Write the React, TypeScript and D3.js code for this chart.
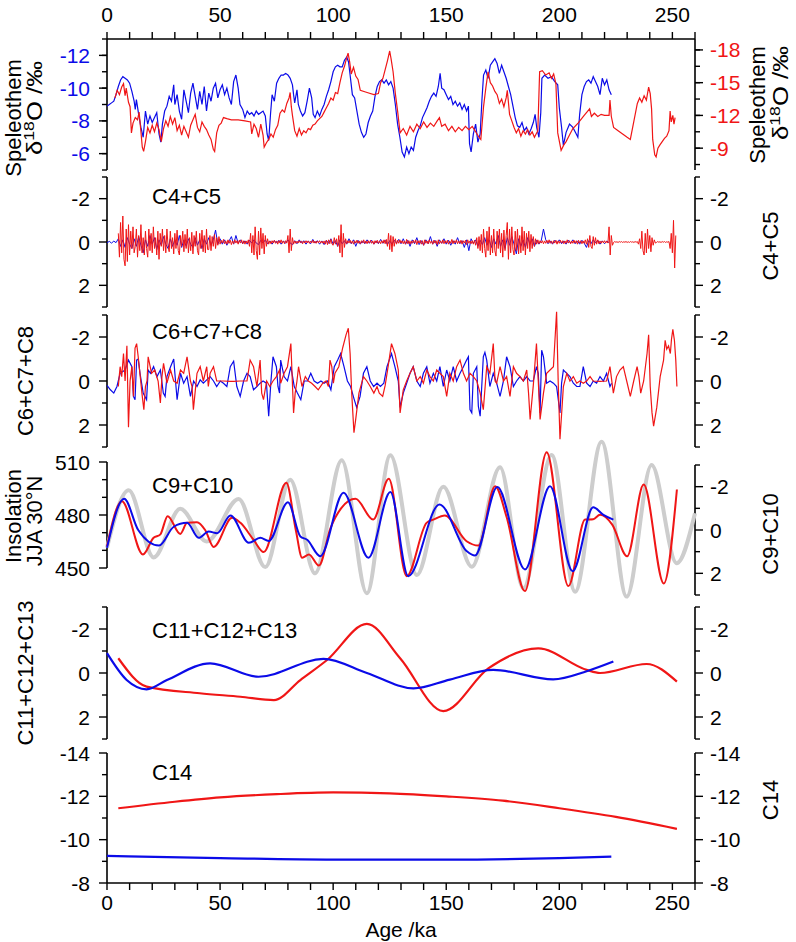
import React from "react";
import * as d3 from "d3";

// ---------- data (age in ka, value) ----------
const ageTicks = d3.range(0, 261, 10);
const ageLabels = [0, 50, 100, 150, 200, 250];

// speleothem d18O, blue record (left axis) and red record (right axis)
const speleoBlue: [number, number][] = [
  [0,-8.9],[1,-9.0],[2,-9.1],[3,-9.2],[4,-9.6],[5,-10.1],[6,-10.5],[7,-10.7],[8,-10.6],[9,-10.5],[10,-10.3],[11,-9.8],[12,-9.2],[12.5,-8.7],[13,-9.3],[14,-8.4],[15,-7.6],[16,-7.0],[17,-8.6],[18,-7.8],[19,-8.3],[20,-7.9],[21,-8.2],[22,-8.5],[23,-7.2],[23.8,-6.7],[24.5,-7.8],[25.5,-8.6],[26.5,-8.9],[27.5,-9.5],[28.5,-9.2],[29.5,-10.2],[30,-9.0],[31,-9.6],[32,-8.6],[33,-8.1],[34,-9.9],[35,-9.2],[36,-8.5],[37,-9.7],[38,-10.3],[39,-9.5],[40,-8.7],[41,-9.8],[42,-9.0],[43,-10.1],[44,-8.6],[45,-9.7],[46,-9.2],[47,-10.0],[48,-10.3],[49,-9.4],[50,-9.9],[51,-10.2],[52,-9.6],[53,-10.0],[54,-9.4],[55,-9.0],[56,-10.4],[57,-10.8],[58,-10.0],[58.8,-9.0],[60,-8.7],[61,-8.2],[62,-8.6],[63,-8.4],[64,-8.5],[65,-8.3],[66,-8.6],[67,-8.4],[68,-8.5],[69,-8.6],[70,-8.3],[70.8,-7.2],[71.5,-6.8],[72.3,-8.4],[73,-9.6],[74,-9.2],[75,-10.3],[76,-10.6],[77,-10.8],[78,-10.8],[79,-10.9],[80,-10.8],[81,-10.6],[82,-10.2],[82.5,-9.6],[83,-9.1],[84,-9.9],[84.6,-9.0],[85.5,-8.6],[86.5,-8.3],[87.5,-8.5],[88.5,-9.2],[89.5,-10.0],[90.5,-9.4],[91.2,-8.4],[92,-8.2],[93,-8.6],[94,-8.3],[95,-8.7],[96,-9.0],[97,-9.5],[98,-9.9],[99,-10.4],[100,-11.0],[101,-11.3],[102,-11.4],[103,-11.3],[104,-11.3],[105,-11.7],[106,-11.9],[106.8,-11.6],[107.5,-10.8],[108.5,-9.6],[109.5,-9.4],[110.5,-8.6],[111.5,-7.8],[112.5,-7.3],[113.5,-7.0],[114.5,-7.2],[115.5,-7.9],[116.5,-8.3],[117.5,-8.6],[118.5,-9.5],[119.5,-10.1],[120.5,-10.4],[121.5,-10.5],[122.5,-10.3],[123.5,-10.5],[124.5,-10.2],[125.5,-10.4],[126.5,-10.0],[127.5,-9.0],[128.5,-7.8],[129.5,-7.0],[130.5,-6.1],[131.5,-5.8],[132.5,-6.4],[133.5,-6.0],[134.5,-6.4],[135.5,-6.2],[136.5,-7.0],[137.5,-7.4],[138.5,-7.7],[139.5,-8.2],[140.5,-8.5],[141.5,-8.8],[142.5,-9.2],[143.5,-9.5],[144.5,-9.7],[145.5,-9.5],[146.5,-10.1],[147.3,-10.9],[148,-10.0],[149,-9.9],[150,-9.6],[151,-9.3],[152,-9.5],[153,-9.0],[154,-9.2],[155,-8.9],[156,-9.1],[157,-8.7],[158,-9.0],[159,-8.6],[159.8,-8.9],[160.3,-6.6],[161,-6.1],[162,-7.2],[163,-7.8],[164,-6.7],[165,-7.2],[165.8,-9.3],[166.5,-10.8],[167.5,-11.1],[168.5,-10.6],[169.5,-11.4],[170.5,-11.6],[171.5,-11.8],[172.5,-11.5],[173.5,-10.9],[174.5,-11.4],[175.5,-11.0],[176.5,-10.6],[177.5,-10.1],[178.5,-9.6],[179.5,-8.9],[180.5,-8.2],[181.5,-7.7],[182.5,-7.6],[183.5,-7.9],[184.5,-7.4],[185.5,-7.6],[186.5,-7.2],[187.5,-7.5],[188.5,-7.9],[189.3,-8.4],[190,-7.6],[191,-7.0],[191.8,-8.5],[192.3,-10.6],[193.5,-10.8],[195,-10.6],[196.5,-10.7],[198,-10.4],[199.3,-10.2],[200,-8.8],[201,-7.6],[201.8,-6.5],[203,-7.3],[204.5,-7.8],[206,-7.6],[207.5,-7.2],[208.2,-7.0],[209,-8.4],[210,-9.6],[211,-10.1],[212,-10.4],[213,-10.5],[214,-10.3],[215,-10.7],[216,-10.4],[217,-10.1],[218,-9.6],[219,-10.6],[220,-10.2],[221,-10.5],[222,-9.9],[223,-9.6]
];
const speleoRed: [number, number][] = [
  [3.5,-13.6],[4.5,-14.3],[5.5,-13.9],[6.5,-14.6],[7.3,-14.9],[8,-13.8],[8.5,-14.5],[9.5,-13.2],[10.2,-12.8],[10.8,-10.4],[11.5,-11.3],[12.5,-11.8],[13.5,-11.6],[14.2,-12.3],[15,-10.5],[15.6,-9.1],[16.2,-8.7],[17,-9.6],[18,-10.9],[19,-10.4],[20,-11.1],[21,-10.5],[22,-11.3],[23,-10.7],[24,-9.6],[25,-10.8],[26,-11.5],[27,-11.0],[28,-11.9],[29,-11.2],[30,-11.8],[31,-10.6],[32,-11.1],[33,-10.2],[34,-11.0],[35,-10.5],[36,-10.0],[37,-11.1],[38,-11.6],[39,-12.1],[40,-10.9],[41,-10.5],[42,-11.4],[43,-11.0],[44,-10.7],[45,-10.2],[46,-9.8],[47,-8.9],[47.6,-8.7],[48.5,-10.4],[49.5,-11.1],[50.5,-11.3],[51.5,-11.8],[53,-11.7],[55,-11.6],[58,-11.6],[61,-11.5],[63.5,-11.4],[64,-10.3],[65,-11.2],[66,-10.8],[67,-10.0],[68,-11.2],[69,-10.2],[69.5,-9.1],[70.5,-9.5],[71.5,-9.8],[72.5,-10.3],[73.5,-10.0],[74.5,-10.7],[75.5,-11.1],[76.5,-12.2],[77.5,-12.5],[78.5,-12.3],[79.5,-13.1],[80.5,-13.6],[81,-14.1],[81.5,-12.8],[82,-12.0],[83,-10.6],[84,-10.1],[85,-10.8],[86,-10.2],[87,-10.6],[88,-10.4],[89,-10.8],[90,-10.7],[91,-11.1],[92,-11.2],[93,-11.5],[94,-11.7],[95,-11.9],[96,-12.3],[97,-12.7],[98,-13.1],[99,-13.6],[100,-13.4],[101,-14.1],[102,-14.0],[103,-15.0],[104,-15.9],[105,-16.5],[106,-17.3],[106.6,-17.7],[107.3,-16.9],[108,-15.8],[109,-16.4],[110,-15.6],[111,-15.3],[112,-14.3],[115,-14.1],[118,-13.9],[120,-14.0],[121,-15.0],[122,-15.4],[123,-16.2],[124,-17.0],[125,-17.9],[125.6,-17.2],[126.5,-16.0],[127.5,-14.0],[128.5,-12.4],[129.6,-10.4],[131,-10.8],[132.5,-10.2],[134,-11.0],[135.5,-10.5],[137,-11.2],[138.5,-10.8],[140,-11.4],[141.5,-10.9],[143,-11.3],[144.5,-11.0],[146,-11.5],[147,-11.8],[148,-11.0],[149.5,-11.2],[151,-10.6],[152.5,-11.0],[154,-10.5],[155.5,-10.9],[157,-10.6],[158.5,-11.0],[160,-10.7],[161.5,-11.0],[163,-10.5],[164.5,-10.0],[165.3,-9.8],[166.5,-12.8],[167.5,-14.5],[168.5,-16.0],[169.5,-15.0],[170.5,-14.7],[171.5,-14.2],[172.5,-13.9],[173.5,-13.1],[174.5,-13.5],[175.5,-12.8],[176.5,-13.6],[177,-14.3],[178,-12.1],[179,-11.5],[180,-10.9],[181,-10.4],[182,-10.8],[183,-10.1],[184,-10.6],[185,-10.3],[186,-10.7],[187,-10.2],[188,-10.5],[189,-10.0],[190.5,-10.6],[191.3,-16.0],[192.5,-16.1],[194,-15.7],[195.5,-15.9],[196.5,-15.4],[197.5,-15.8],[198.5,-14.9],[199.3,-10.4],[200.8,-8.8],[202,-9.3],[203,-9.6],[204.5,-10.2],[206,-10.8],[208.3,-11.3],[211,-12.0],[213.4,-12.6],[214.2,-11.9],[215.5,-12.2],[217,-11.9],[218.5,-12.1],[220,-12.0],[222,-12.0],[222.4,-13.4],[223,-11.9],[224,-10.9],[226,-10.6],[228,-10.3],[230,-10.0],[231.4,-9.8],[233,-11.5],[234.5,-13.1],[235.5,-13.6],[236.5,-13.2],[237.5,-13.8],[238.5,-13.4],[239.5,-14.6],[240.2,-14.0],[240.8,-12.6],[241.3,-9.8],[242.2,-8.4],[242.8,-8.2],[243.6,-9.0],[244.5,-9.3],[245.5,-9.6],[246.5,-9.9],[247.5,-10.1],[248.5,-10.6],[249,-12.4],[249.5,-11.4],[250.2,-12.0],[250.7,-11.2],[251.2,-11.8]
];

// C4+C5: blue one value per ka, red one value per half ka
const c45BlueStart = 0;
const c45BlueStep = 1;
const c45Blue = [
  0.04,-0.03,0.05,-0.04,0.03,
  -0.15,0.2,-0.1,0.25,-0.2,0.1,0.3,-0.15,0.2,-0.25,
  0.15,0.5,-0.1,0.2,-0.3,0.1,-0.2,0.35,-0.1,0.15,
  -0.25,0.1,0.3,-0.15,0.2,-0.1,0.15,-0.3,0.25,-0.1,
  0.2,-0.15,0.1,0.25,-0.2,0.15,-0.1,0.3,-0.15,0.1,
  -0.2,0.15,-0.1,-0.55,0.1,-0.15,0.1,-0.1,0.15,-0.05,
  -0.25,0.1,-0.3,0.05,-0.1,0.08,-0.05,0.1,-0.08,0.05,
  -0.1,0.05,0.12,-0.08,0.05,-0.1,0.08,-0.05,0.1,-0.06,
  0.05,-0.08,0.1,-0.05,0.06,-0.1,0.05,0.12,-0.06,0.08,
  -0.1,0.05,-0.06,0.1,-0.05,0.08,-0.12,0.05,-0.06,0.1,
  -0.05,0.12,-0.08,0.06,-0.15,0.1,-0.06,0.2,-0.1,0.08,
  -0.06,0.1,-0.15,0.08,-0.1,0.2,-0.08,0.1,-0.05,0.08,
  -0.1,0.06,-0.08,0.1,-0.05,0.08,-0.12,0.06,-0.08,0.12,
  -0.06,0.1,-0.08,0.05,-0.12,0.08,-0.15,0.1,-0.08,0.2,
  -0.1,0.08,-0.2,0.12,-0.06,0.15,-0.1,0.08,-0.25,0.1,
  -0.08,0.2,-0.1,0.06,-0.15,0.1,-0.08,0.15,-0.06,0.1,
  -0.2,0.08,-0.06,0.25,-0.1,0.4,-0.15,0.06,-0.1,0.2,
  -0.08,0.12,-0.2,0.15,-0.1,0.25,-0.15,0.1,-0.3,0.2,
  -0.1,0.3,-0.2,0.15,-0.25,0.1,0.55,-0.15,0.2,-0.1,
  0.25,-0.2,0.1,-0.15,0.2,-0.08,0.1,-0.06,-0.6,-0.1,
  0.08,-0.05,0.1,-0.08,0.05,-0.1,0.08,-0.05,0.1,-0.08,
  0.05,-0.1,0.08,-0.05,0.1,-0.08,0.05,0.25,-0.06,0.08,
  -0.1,0.05,-0.08,0.1,-0.05,0.08,-0.05,0.03
];
const c45RedStart = 5;
const c45RedStep = 0.5;
const c45Red = [
  -0.4,0.7,-0.9,0.5,-1.2,0.8,1.1,-0.6,0.9,-0.8,
  0.6,-0.5,0.3,-0.7,0.5,0.2,-0.6,0.7,-0.3,0.4,-0.8,0.5,-0.2,0.6,-0.5,0.3,0.7,-0.6,0.4,-0.4,
  0.5,-0.7,0.3,-0.2,0.6,-0.5,0.8,-0.4,0.2,-0.6,
  0.4,-0.3,0.5,-0.6,0.2,0.45,-0.5,0.3,-0.2,0.55,-0.4,0.3,-0.55,0.4,0.6,-0.3,0.2,-0.5,0.45,-0.35,
  0.3,-0.6,0.5,-0.2,0.4,-0.45,0.55,-0.3,0.2,-0.5,0.4,0.6,-0.4,0.3,-0.55,0.45,-0.3,0.5,-0.6,0.35,
  0.35,-0.3,0.4,-0.25,0.2,-0.35,0.3,-0.2,0.15,-0.25,
  0.1,-0.08,0.05,-0.12,0.08,-0.05,0.1,-0.1,0.06,-0.08,0.12,-0.05,0.08,-0.1,0.05,-0.06,0.1,-0.08,0.05,-0.1,
  0.08,-0.06,0.1,-0.05,0.06,-0.1,
  0.2,-0.4,0.5,-0.3,0.6,-0.7,0.4,0.8,-0.5,0.6,-0.65,0.3,-0.4,0.55,-0.3,0.2,-0.15,0.1,
  -0.05,0.08,-0.06,0.05,-0.08,0.06,-0.05,0.1,-0.06,0.05,-0.1,0.06,-0.05,0.08,-0.06,0.05,
  -0.3,0.5,-0.6,0.4,-0.2,0.1,
  -0.05,0.06,-0.04,0.05,-0.06,0.04,-0.05,0.08,-0.04,0.05,-0.06,0.04,-0.05,0.06,-0.04,0.05,-0.08,0.05,-0.04,0.06,
  -0.05,0.04,-0.06,0.05,-0.04,0.06,-0.05,0.1,-0.08,0.12,-0.1,0.08,-0.12,0.1,
  0.15,-0.2,0.1,-0.15,0.2,-0.3,0.5,-0.8,0.7,-0.4,0.25,-0.15,
  0.08,-0.06,0.05,-0.08,0.06,-0.05,0.1,-0.06,0.05,-0.08,0.06,-0.05,0.08,-0.06,0.05,-0.1,0.06,-0.05,0.08,-0.06,
  0.05,-0.08,0.06,-0.05,0.1,-0.06,0.05,-0.08,0.06,-0.05,0.08,-0.06,0.05,-0.1,0.08,-0.12,
  0.2,-0.4,0.35,-0.3,0.45,-0.25,0.2,-0.15,
  0.1,-0.08,0.06,-0.1,0.05,-0.06,0.08,-0.05,0.1,-0.12,0.08,-0.06,0.1,-0.05,0.06,-0.08,0.05,-0.1,0.12,-0.06,
  0.05,-0.08,0.1,-0.06,0.15,-0.1,0.06,-0.05,0.08,-0.1,0.06,-0.05,0.1,-0.08,0.05,-0.06,0.12,-0.1,0.08,-0.05,
  0.06,-0.1,0.08,-0.06,0.05,-0.08,0.1,-0.05,0.06,-0.12,0.08,-0.06,0.05,-0.1,0.08,-0.05,0.06,-0.08,0.1,-0.06,
  0.05,-0.08,0.12,-0.1,0.06,-0.05,0.08,-0.06,0.1,-0.08,0.15,-0.2,0.3,-0.25,0.4,-0.35,
  0.5,-0.6,0.3,0.7,-0.5,0.4,-0.7,0.6,-0.3,0.5,-0.6,0.4,0.65,-0.5,0.3,-0.6,0.5,-0.4,0.7,-0.55,
  0.4,-0.3,-0.9,0.8,-0.6,0.5,-0.7,0.35,0.6,-0.5,0.4,-0.6,0.55,-0.3,0.5,-0.7,0.4,-0.5,0.6,-0.4,
  0.3,-0.5,0.45,-0.35,0.3,-0.25,0.2,-0.15,0.1,-0.1,0.08,-0.06,
  0.05,-0.06,0.08,-0.05,0.06,-0.08,0.05,-0.1,0.06,-0.05,0.08,-0.06,0.05,-0.08,0.1,-0.05,0.06,-0.08,0.05,-0.06,
  0.08,-0.05,0.06,-0.1,0.05,-0.06,0.08,-0.05,0.06,-0.08,0.05,-0.06,0.1,-0.08,0.05,-0.06,0.08,-0.05,0.06,-0.1,
  0.1,-0.15,
  0.25,-0.3,0.2,0.3,-0.25,0.15,-0.2,0.1,-0.1,0.08,
  -0.05,0.06,-0.05,0.04,-0.06,0.05,-0.04,0.05,
  -0.7,0.6,-0.3,0.15,
  0.02,-0.02,0.01,-0.01,0.02,-0.02,0.01,-0.02,0.02,-0.01,0.01,-0.02,0.02,-0.01,0.02,-0.02,0.01,-0.01,0.02,-0.02,
  0.01,-0.02,0.1,-0.15,
  0.3,-0.5,0.4,0.6,-0.4,0.5,-0.6,0.3,-0.3,0.45,-0.2,0.15,-0.1,0.05,
  0.02,-0.02,0.01,-0.01,0.02,-0.02,0.01,-0.02,0.02,-0.01,0.01,-0.02,
  0.3,-0.4,0.5,-1.0,1.2,-0.3
];

// C6+C7+C8
const c678Blue: [number, number][] = [
  [0,0.2],[1.5,0.4],[3,0.55],[4.4,0.25],[5.8,-0.35],[8,-0.5],[9.5,-0.95],[11,-0.65],[11.7,0.7],[12.4,0.85],[13.1,-0.95],[13.8,-1.0],[14.6,-0.35],[16,0.55],[17.5,0.85],[18.2,-0.5],[19.2,-0.35],[20.6,-0.65],[22.1,-0.2],[23.6,-0.5],[24.9,0.55],[25.7,0.7],[26.5,-0.2],[28.1,-0.65],[29.5,-1.0],[30.3,0],[31,0.85],[32.5,-0.35],[33.9,0.1],[35.4,-0.2],[36.9,0.7],[38.3,0],[39.8,0.25],[41.2,-0.05],[42.6,0.1],[44.1,-0.05],[45.6,-0.2],[47.1,0],[48.5,0.25],[50.1,0],[51.5,0.1],[53,0.25],[54.5,-0.65],[56,-0.9],[57.4,0.25],[58.9,0.7],[60.4,0],[61.9,-0.35],[63.3,-0.2],[64.8,0.4],[66.3,0.25],[67.7,0.1],[69,0],[70.5,0.1],[71.5,1.6],[72.5,0],[73.4,-1.1],[74.9,-0.65],[75.6,0.25],[76.3,0.55],[76.8,-0.95],[78.3,-0.2],[79.8,0],[81.3,-0.65],[82.8,0.25],[84.2,0.55],[85.7,0.85],[87.2,0],[88.7,0],[90.1,-0.35],[91.6,0],[93.1,0.1],[94.6,0],[96,0.1],[97.5,0],[99,0.4],[100.5,-0.65],[102,-0.95],[103.3,-1.25],[104.8,-0.65],[106.3,0],[107.7,0.25],[109.2,0.8],[110.4,1.2],[111.9,0.7],[113.4,-0.35],[114.9,-0.65],[116.4,0],[117.9,0.25],[119.4,0.1],[120.9,0.25],[122.4,0.1],[123.8,-0.65],[124.8,-0.95],[125.8,-1.25],[127.3,-0.65],[128.8,0],[129.6,1.2],[131,0.55],[132.5,0.1],[134,-0.35],[135.4,-0.65],[137,0],[138.5,0.25],[139.9,-0.35],[141.4,-0.65],[142.8,0.1],[144.3,-0.35],[145.8,0],[147.2,-0.65],[148.7,0.25],[150.2,-0.5],[151.6,0],[153.1,-0.65],[154.6,0],[156.1,-0.35],[157.6,-0.65],[159,-0.95],[159.8,-1.1],[160.5,1.3],[161.3,1.45],[162,-0.35],[163.5,-0.65],[164.2,1.15],[165,1.6],[166.4,-1.1],[167.1,-1.3],[167.9,-0.95],[169.3,0.25],[170.8,-0.35],[172.3,0.1],[173.8,0.7],[175.3,0],[176.7,-1.1],[178.2,-0.65],[179.7,0.25],[181.1,0],[182.6,-0.2],[184.1,0],[185.6,-0.2],[187.1,0],[188.5,0],[189.9,-0.65],[190.7,-0.35],[191.5,1.45],[192.2,-1.4],[193,-1.1],[193.7,-0.5],[194.4,0.1],[195.9,0],[197.4,0.1],[198.8,0.25],[200.3,1.45],[201,0.1],[201.8,-0.5],[203.3,-0.35],[204.7,-0.2],[206.2,0.1],[207.7,0.25],[209.1,0.25],[210.6,-0.65],[212.1,0.1],[213.6,0.25],[215,0],[216.5,0.1],[218,-0.2],[219.5,0],[220.9,-0.35],[222.4,0.25],[223.1,0.1]
];
const c678Red: [number, number][] = [
  [5,0.25],[5.8,-0.65],[6.5,-0.2],[7.3,-1.25],[8,0],[8.8,-1.6],[9.5,2.1],[10.2,0],[11,-0.65],[11.7,0.7],[12.4,-1.5],[13.1,-1.7],[13.8,-1.1],[15.6,0.7],[16.3,1.3],[17,0.25],[17.7,0],[18.2,-1.1],[19.7,-0.35],[21.1,-0.5],[22.6,0],[23.6,1.0],[24.3,-0.2],[25,-0.8],[26.5,0.1],[28.1,-0.5],[29.5,0],[31,0.1],[32.5,-0.5],[33.9,-0.35],[35.4,-1.1],[36.9,0],[37.6,0.25],[38.2,1.3],[39.8,-0.35],[41.2,-0.65],[42.6,0],[44.1,-0.65],[44.8,0.25],[45.6,-0.35],[47.1,-0.65],[48.5,0],[50.1,0],[51.5,0],[54.5,0.02],[56,0.02],[58.9,0],[61.9,0],[63.3,-0.95],[64.8,-0.65],[66.3,0.25],[67.7,-0.95],[68.4,0.55],[69.2,0.85],[70.6,0],[72,0.25],[73.4,0],[74.9,-0.2],[76.3,-0.5],[76.8,0.1],[78.3,-0.35],[79.8,-0.65],[81.3,-1.7],[82.5,1.45],[83.2,0.55],[84,0],[84.7,-0.65],[86.2,0.25],[87.7,-0.2],[89,0],[90.5,0.1],[92,0.25],[93.4,0.4],[95.4,0.1],[96.9,0],[97.9,0.25],[98.6,-0.95],[99.4,-0.65],[100.1,0.1],[100.8,-0.35],[102.5,-0.65],[104.2,-1.5],[105.7,-2.1],[106.7,-2.4],[107.5,-1.25],[108.2,0.55],[108.7,1.45],[109.2,2.35],[109.9,1.8],[111.4,0.55],[113.4,-0.2],[114.9,0],[116.4,0.25],[118,0.55],[119.4,0.25],[120.4,0.55],[121.9,0.7],[123,0.2],[124.3,-0.65],[125.8,-1.7],[127.3,-1.25],[128.8,-0.5],[129.6,1.45],[131,0.4],[132.5,0],[134,-0.35],[135.4,-0.65],[137,0],[138.5,-0.2],[139.9,0.1],[141.4,-0.5],[142.8,-0.2],[144.3,0],[145.8,-0.5],[147.2,-0.35],[148.7,-0.2],[150.2,0.7],[151.6,-0.35],[153.1,0],[154.6,-0.65],[156.1,-0.95],[157.6,-0.35],[159,0],[160.5,-0.35],[162,-0.2],[163.5,0],[165,0.55],[166.4,1.3],[167.9,-0.65],[169.3,-0.35],[170.8,-1.7],[171.6,0],[172.3,0.1],[173.8,-0.65],[175.3,0],[176.7,-0.2],[178.2,0.7],[179.7,-0.65],[181.1,-0.35],[182.6,-0.2],[184.1,0],[185.6,-0.5],[186.4,0.55],[187.1,1.75],[188.5,0.2],[189.9,-1.7],[190.7,0],[191.5,1.75],[193,0.55],[194.4,-0.35],[195.9,-0.5],[197.4,-0.65],[198.8,-3.15],[199.5,0],[200.3,2.65],[201.8,0.25],[203.3,-0.35],[204.7,0],[206.2,-0.2],[207.7,0.1],[209.1,0],[210.6,0.1],[212.1,0],[213.6,-0.2],[215,0],[218,0.02],[220.9,0],[222.4,-0.65],[223.9,0.55],[225.3,-0.2],[226.8,-0.5],[228.3,-0.65],[229.8,0],[231.4,0.7],[232.9,0],[234.4,-0.65],[235.2,-0.2],[236,0.55],[237.3,0],[238.8,-1.25],[239.5,-2.1],[240.2,0.25],[241,1.45],[241.7,2.05],[243.1,1.2],[244.6,-0.2],[246.1,-0.95],[246.8,-1.85],[247.5,-1.45],[248.3,-1.6],[249.1,-1.25],[249.6,-1.9],[250.2,-2.35],[250.9,-1.85],[251.5,-0.95],[252,0.25]
];

// C9+C10 and JJA insolation at 30N (turning points)
const insolation: [number, number][] = [
  [0,461.5],[9.6,494],[20.6,456],[32.4,483.5],[44.1,465],[58.2,489],[70,450.5],[81,500],[92,447],[103.8,511],[114.9,435.7],[125.3,513.8],[137,446],[148.7,496],[161.3,450.7],[173.8,507],[184.1,438.5],[196.6,514],[207,436.6],[218.7,521.5],[229.8,433.8],[240.8,508.3],[251.9,452.7],[260,481]
];
const c910Blue: [number, number][] = [
  [0,0.82],[7.6,-1.44],[13.8,0],[23,0.72],[29.5,-0.15],[35.4,-0.33],[40.5,0.36],[45,0.07],[48.7,0.15],[54.6,-0.67],[62.7,0.59],[67.8,0.36],[71.5,0.51],[80,-1.28],[85.5,0.3],[88.5,0.45],[94.3,1.21],[104.6,-1.72],[115.6,1.28],[125.3,-1.75],[133.2,2.13],[147,-1.18],[159,0.97],[162.7,1.18],[172.6,-1.98],[184.8,1.82],[195.9,-2.02],[205.9,1.9],[215,-1.05],[219.5,-0.7],[223.9,-0.48]
];
const c910Red: [number, number][] = [
  [0,0.75],[6.6,-1.33],[15.9,1.13],[20.6,0.36],[23.6,0.2],[26.8,-0.64],[32.4,0.18],[35.4,-0.33],[39.8,-0.36],[43.4,0.0],[47.2,0.78],[55.3,-0.56],[59,-0.33],[64.8,0.45],[69.3,1.02],[79.3,-2.18],[83.4,-0.05],[86.3,1.28],[89.3,1.13],[93.7,1.64],[98.8,-0.08],[103.5,-1.0],[109.9,-1.44],[117.7,-0.48],[124.6,-2.36],[132.5,2.13],[141.3,-0.33],[144.3,-0.48],[149.4,-0.67],[159,0.52],[164.2,0.72],[171.6,-2.02],[176.7,-0.6],[184.8,2.82],[194.4,-3.59],[204,2.59],[211.4,-0.48],[215,-0.5],[218,-0.7],[223.4,-0.25],[230,1.21],[237.3,-2.1],[246.2,2.47],[252,-1.87]
];

// C11+C12+C13
const c1113Blue: [number, number][] = [
  [0,-0.9],[8.7,0.32],[17.5,0.74],[26.5,0.32],[45.6,-0.44],[67,0.17],[95.7,-0.64],[114.9,0],[135.5,0.7],[151.6,0.3],[170.8,-0.14],[197.3,0.29],[212.1,-0.08],[223.9,-0.52]
];
const c1113Red: [number, number][] = [
  [5,-0.67],[17.5,0.62],[41,0.92],[59,1.08],[73.8,1.23],[85.5,0.32],[97.3,-0.59],[114.9,-2.23],[129.6,-0.67],[148.7,1.73],[168.6,-0.21],[190.7,-1.12],[212.1,-0.14],[218,0],[238.6,-0.41],[252,0.39]
];

// C14
const c14Blue: [number, number][] = [
  [0,-9.25],[50,-9.15],[100,-9.08],[150,-9.08],[200,-9.15],[223,-9.22]
];
const c14Red: [number, number][] = [
  [5,-11.45],[30,-11.75],[50,-11.95],[75,-12.1],[100,-12.18],[125,-12.14],[150,-12.0],[175,-11.8],[200,-11.45],[225,-11.05],[252,-10.5]
];

// ---------- layout ----------
const W = 796;
const H = 942;
const X0 = 107;
const X1 = 695;
const TOP = 39;
const BOTTOM = 883;
const FONT = "'Liberation Sans', Arial, Helvetica, sans-serif";
const BLUE = "#0b0be8";
const RED = "#f01616";
const GRAY = "#cdcdcd";
const TICK_FS = 21;
const TITLE_FS = 22;

const x = d3.scaleLinear().domain([0, 260]).range([X0, X1]);

const yP1Blue = d3.scaleLinear().domain([-13, -5]).range([39, 170]);
const yP1Red = d3.scaleLinear().domain([-19, -7]).range([39, 170]);
const yP2 = d3.scaleLinear().domain([-3, 3]).range([177, 307]);
const yP3 = d3.scaleLinear().domain([-3, 3]).range([315, 447]);
const yIns = d3.scaleLinear().domain([510, 450]).range([462, 568]);
const yP4 = d3.scaleLinear().domain([-3, 3]).range([465, 595]);
const yP5 = d3.scaleLinear().domain([-3, 3]).range([607, 739]);
const yP6 = d3.scaleLinear().domain([-14, -8]).range([753, 883]);

const stepSeries = (vals: number[], start: number, step: number): [number, number][] =>
  vals.map((v, i) => [start + i * step, v]);

const path = (data: [number, number][], ys: d3.ScaleLinear<number, number>, smooth = false) =>
  d3
    .line<[number, number]>()
    .x((d) => x(d[0]))
    .y((d) => ys(d[1]))
    .curve(smooth ? d3.curveMonotoneX : d3.curveLinear)(data) || "";

const YAxis = ({ scale, side, major, minor, color = "#000" }: any) => {
  const [a, b] = scale.range();
  const x0 = side === "left" ? X0 : X1;
  const dir = side === "left" ? -1 : 1;
  return (
    <g>
      <line x1={x0} x2={x0} y1={a} y2={b} stroke="#000" strokeWidth={1.6} />
      {minor.map((v: number) => (
        <line key={"m" + v} x1={x0} x2={x0 + dir * 5} y1={scale(v)} y2={scale(v)} stroke="#000" strokeWidth={1.4} />
      ))}
      {major.map((v: number) => (
        <line key={"M" + v} x1={x0} x2={x0 + dir * 8} y1={scale(v)} y2={scale(v)} stroke="#000" strokeWidth={1.4} />
      ))}
      {major.map((v: number) => (
        <text
          key={"t" + v}
          x={side === "left" ? 90 : 710}
          y={scale(v)}
          dy="0.36em"
          textAnchor={side === "left" ? "end" : "start"}
          fill={color}
          fontSize={TICK_FS}
        >
          {String(v)}
        </text>
      ))}
    </g>
  );
};

const VTitle = ({ cx, cy, children, len }: any) => (
  <text
    transform={`translate(${cx},${cy}) rotate(-90)`}
    textAnchor="middle"
    dy="0.36em"
    fontSize={TITLE_FS}
    textLength={len}
    lengthAdjust={len ? "spacingAndGlyphs" : undefined}
  >
    {children}
  </text>
);

const PanelLabel = ({ y, text }: any) => (
  <text x={152} y={y} fontSize={TITLE_FS}>
    {text}
  </text>
);

const Delta = () => (
  <>
    <tspan>δ</tspan>
    <tspan fontSize={15} dy={-8}>18</tspan>
    <tspan dy={8}>O /‰</tspan>
  </>
);

const sym3 = { major: [-2, 0, 2], minor: [-3, -1, 1, 3] };

export default function App() {
  return (
    <svg
      width={W}
      height={H}
      style={{ position: "absolute", left: 0, top: 0, background: "#fff" }}
      fontFamily={FONT}
    >
      <rect width={W} height={H} fill="#fff" />

      {/* top and bottom age axes */}
      <line x1={X0} x2={X1} y1={TOP} y2={TOP} stroke="#000" strokeWidth={1.6} />
      <line x1={X0} x2={X1} y1={BOTTOM} y2={BOTTOM} stroke="#000" strokeWidth={1.6} />
      {ageTicks.map((t) => (
        <g key={"at" + t}>
          <line x1={x(t)} x2={x(t)} y1={TOP} y2={TOP - 7} stroke="#000" strokeWidth={1.4} />
          <line x1={x(t)} x2={x(t)} y1={BOTTOM} y2={BOTTOM + 7} stroke="#000" strokeWidth={1.4} />
        </g>
      ))}
      {ageLabels.map((t) => (
        <g key={"al" + t}>
          <text x={x(t)} y={22} textAnchor="middle" fontSize={TICK_FS}>{t}</text>
          <text x={x(t)} y={910} textAnchor="middle" fontSize={TICK_FS}>{t}</text>
        </g>
      ))}
      <text x={(X0 + X1) / 2} y={937} textAnchor="middle" fontSize={TICK_FS}>Age /ka</text>

      {/* panel 1: speleothem */}
      <YAxis scale={yP1Blue} side="left" major={[-12, -10, -8, -6]} minor={d3.range(-13, -4, 1)} color={BLUE} />
      <YAxis scale={yP1Red} side="right" major={[-18, -15, -12, -9]} minor={d3.range(-18, -7, 1.5)} color={RED} />
      <path d={path(speleoBlue, yP1Blue)} fill="none" stroke={BLUE} strokeWidth={1.2} />
      <path d={path(speleoRed, yP1Red)} fill="none" stroke={RED} strokeWidth={1.2} />
      <VTitle cx={13} cy={118}>Speleothem</VTitle>
      <VTitle cx={34} cy={108} len={94}><Delta /></VTitle>
      <VTitle cx={757} cy={105}>Speleothem</VTitle>
      <VTitle cx={780} cy={93} len={94}><Delta /></VTitle>

      {/* panel 2: C4+C5 */}
      <YAxis scale={yP2} side="left" {...sym3} />
      <YAxis scale={yP2} side="right" {...sym3} />
      <path d={path(stepSeries(c45Blue, c45BlueStart, c45BlueStep), yP2)} fill="none" stroke={BLUE} strokeWidth={1} />
      <path d={path(stepSeries(c45Red, c45RedStart, c45RedStep), yP2)} fill="none" stroke={RED} strokeWidth={1} />
      <PanelLabel y={204} text="C4+C5" />
      <VTitle cx={770} cy={246}>C4+C5</VTitle>

      {/* panel 3: C6+C7+C8 */}
      <YAxis scale={yP3} side="left" {...sym3} />
      <YAxis scale={yP3} side="right" {...sym3} />
      <path d={path(c678Blue, yP3)} fill="none" stroke={BLUE} strokeWidth={1.2} />
      <path d={path(c678Red, yP3)} fill="none" stroke={RED} strokeWidth={1.2} />
      <PanelLabel y={339} text="C6+C7+C8" />
      <VTitle cx={25} cy={381}>C6+C7+C8</VTitle>

      {/* panel 4: C9+C10 with insolation */}
      <YAxis scale={yIns} side="left" major={[450, 480, 510]} minor={[460, 470, 490, 500]} />
      <YAxis scale={yP4} side="right" {...sym3} />
      <path d={path(insolation, yIns, true)} fill="none" stroke={GRAY} strokeWidth={4} />
      <path d={path(c910Red, yP4, true)} fill="none" stroke={RED} strokeWidth={2} />
      <path d={path(c910Blue, yP4, true)} fill="none" stroke={BLUE} strokeWidth={2} />
      <PanelLabel y={493} text="C9+C10" />
      <VTitle cx={13} cy={516}>Insolation</VTitle>
      <VTitle cx={34} cy={521}>JJA 30°N</VTitle>
      <VTitle cx={770} cy={534}>C9+C10</VTitle>

      {/* panel 5: C11+C12+C13 */}
      <YAxis scale={yP5} side="left" {...sym3} />
      <YAxis scale={yP5} side="right" {...sym3} />
      <path d={path(c1113Red, yP5, true)} fill="none" stroke={RED} strokeWidth={2.2} />
      <path d={path(c1113Blue, yP5, true)} fill="none" stroke={BLUE} strokeWidth={2.2} />
      <PanelLabel y={638} text="C11+C12+C13" />
      <VTitle cx={25} cy={673}>C11+C12+C13</VTitle>

      {/* panel 6: C14 */}
      <YAxis scale={yP6} side="left" major={[-14, -12, -10, -8]} minor={[-13, -11, -9]} />
      <YAxis scale={yP6} side="right" major={[-14, -12, -10, -8]} minor={[-13, -11, -9]} />
      <path d={path(c14Red, yP6, true)} fill="none" stroke={RED} strokeWidth={2.2} />
      <path d={path(c14Blue, yP6, true)} fill="none" stroke={BLUE} strokeWidth={2.2} />
      <PanelLabel y={780} text="C14" />
      <VTitle cx={770} cy={800}>C14</VTitle>
    </svg>
  );
}
